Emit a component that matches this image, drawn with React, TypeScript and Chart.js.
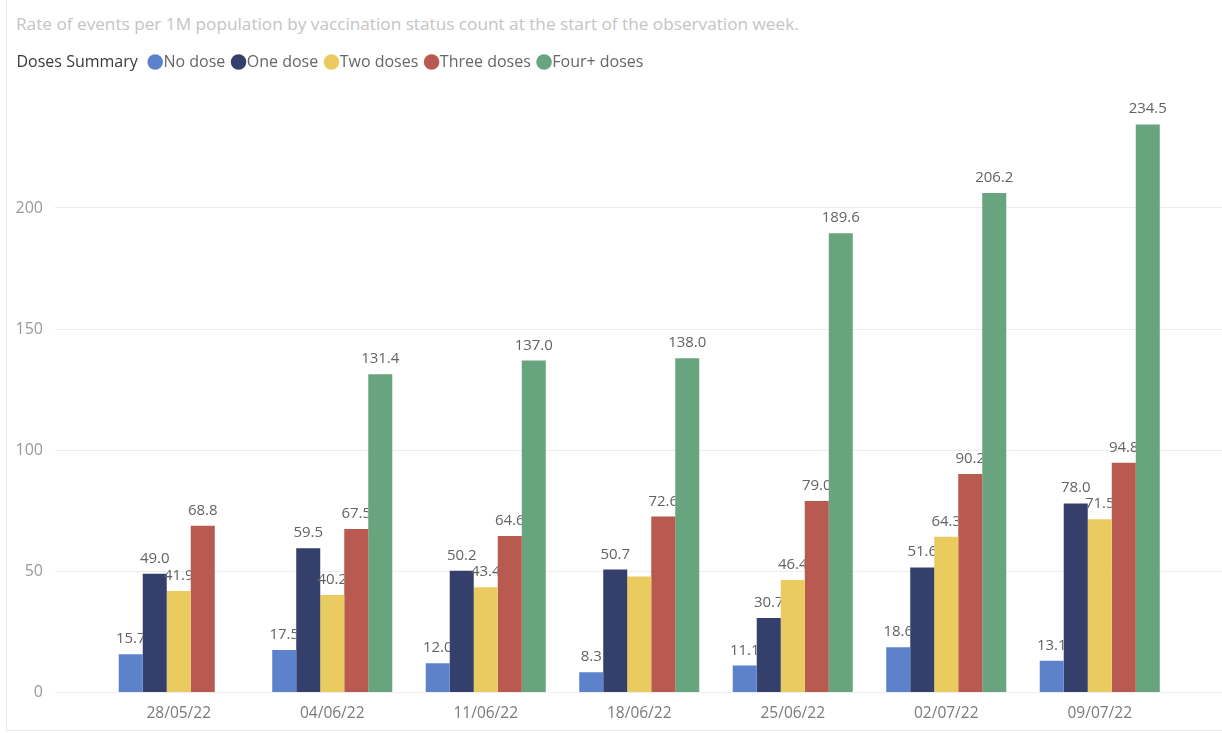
import React, { useEffect, useRef } from "react";
import { Chart, registerables } from "chart.js";

Chart.register(...registerables);

const chartTitle =
  "Rate of events per 1M population by vaccination status count at the start of the observation week.";
const legendCaption = "Doses Summary";

const categories = ["28/05/22", "04/06/22", "11/06/22", "18/06/22", "25/06/22", "02/07/22", "09/07/22"];
const seriesNames = ["No dose", "One dose", "Two doses", "Three doses", "Four+ doses"];
const noDose = [15.7, 17.5, 12.0, 8.3, 11.1, 18.6, 13.1];
const oneDose = [49.0, 59.5, 50.2, 50.7, 30.7, 51.6, 78.0];
const twoDoses = [41.9, 40.2, 43.4, 47.9, 46.4, 64.3, 71.5];
const threeDoses = [68.8, 67.5, 64.6, 72.6, 79.0, 90.2, 94.8];
const fourPlusDoses = [null, 131.4, 137.0, 138.0, 189.6, 206.2, 234.5];
const seriesColors = ["#5C82CC", "#343F6B", "#EACB60", "#B85A50", "#68A47D"];
const yTickValues = [0, 50, 100, 150, 200];
const yMax = 245;

const FONT = '"Open Sans", "Noto Sans", sans-serif';
const GRID = "#ececec";

const rectOf = (el: any) => {
  const p = el.getProps(["x", "y", "base", "width"], true);
  return {
    l: p.x - p.width / 2,
    r: p.x + p.width / 2,
    t: Math.min(p.y, p.base),
    b: Math.max(p.y, p.base),
  };
};

const barLabels = {
  id: "barLabels",
  afterDatasetsDraw(chart: any) {
    const ctx = chart.ctx;
    const n = chart.data.datasets.length;
    const placed: { l: number; r: number; t: number; b: number }[] = [];
    ctx.save();
    ctx.font = `15px ${FONT}`;
    ctx.fillStyle = "#636363";
    ctx.textAlign = "center";
    ctx.textBaseline = "alphabetic";
    for (let i = 0; i < n; i++) {
      const meta = chart.getDatasetMeta(i);
      const data = chart.data.datasets[i].data;
      meta.data.forEach((el: any, j: number) => {
        const v = data[j];
        if (v == null) return;
        const r = rectOf(el);
        const text = Number(v).toFixed(1);
        const w = ctx.measureText(text).width;
        const x = (r.l + r.r) / 2;
        const yb = r.t - 11;
        const box = { l: x - w / 2, r: x + w / 2, t: yb - 11, b: yb };
        if (placed.some((p) => p.l < box.r && box.l < p.r && p.t < box.b && box.t < p.b)) return;
        placed.push(box);
        ctx.save();
        ctx.beginPath();
        ctx.rect(0, 0, chart.width, chart.height);
        for (let k = i + 1; k < n; k++) {
          if (chart.data.datasets[k].data[j] == null) continue;
          const r2 = rectOf(chart.getDatasetMeta(k).data[j]);
          ctx.rect(r2.l, r2.t, r2.r - r2.l, r2.b - r2.t);
        }
        ctx.clip("evenodd");
        ctx.fillText(text, x, yb);
        ctx.restore();
      });
    }
    ctx.restore();
  },
};

const setTicks = (scale: any) => {
  scale.ticks = yTickValues.map((v) => ({ value: v }));
};

export default function App() {
  const ref = useRef<HTMLCanvasElement>(null);

  useEffect(() => {
    if (!ref.current) return;
    const seriesValues = [noDose, oneDose, twoDoses, threeDoses, fourPlusDoses];
    const chart = new Chart(ref.current, {
      type: "bar",
      data: {
        labels: categories,
        datasets: seriesNames.map((name, i) => ({
          label: name,
          data: seriesValues[i] as any,
          backgroundColor: seriesColors[i],
          borderWidth: 0,
          xAxisID: "x",
          yAxisID: "y",
          categoryPercentage: 0.782,
          barPercentage: 1.0,
        })),
      },
      options: {
        animation: false,
        responsive: true,
        maintainAspectRatio: false,
        layout: { padding: { left: -5, top: 41, right: 0, bottom: -2 } },
        plugins: {
          title: { display: false },
          tooltip: { enabled: false },
          legend: {
            display: true,
            position: "top",
            align: "start",
            labels: {
              usePointStyle: true,
              boxWidth: 0.5,
              boxHeight: 11,
              padding: 13,
              font: { family: FONT, size: 16 },
              generateLabels: (chart: any) => [
                {
                  text: legendCaption + " ",
                  fillStyle: "rgba(0,0,0,0)",
                  strokeStyle: "rgba(0,0,0,0)",
                  lineWidth: 0,
                  pointStyle: "circle",
                  fontColor: "#3a3a3a",
                  hidden: false,
                  datasetIndex: -1,
                },
                ...chart.data.datasets.map((d: any, i: number) => ({
                  text: d.label,
                  fillStyle: d.backgroundColor,
                  strokeStyle: d.backgroundColor,
                  lineWidth: 0,
                  pointStyle: "circle",
                  fontColor: "#666666",
                  hidden: false,
                  datasetIndex: i,
                })),
              ],
            },
          },
        },
        scales: {
          x: {
            type: "category",
            position: "bottom",
            offset: true,
            grid: { display: false, drawTicks: false },
            border: { display: false },
            ticks: {
              color: "#7a7a7a",
              font: { family: FONT, size: 15.5 },
              padding: 12,
              maxRotation: 0,
            },
          },
          xTop: {
            type: "category",
            axis: "x",
            position: "top",
            grid: { display: false, drawTicks: false },
            border: { display: false },
            ticks: { display: false },
            afterFit: (s: any) => {
              s.height = 19;
            },
          },
          y: {
            type: "linear",
            position: "left",
            min: 0,
            max: yMax,
            afterBuildTicks: setTicks,
            grid: { color: GRID, tickColor: GRID, lineWidth: 1, tickLength: 47, drawTicks: true },
            border: { display: false },
            ticks: { color: "#999999", font: { family: FONT, size: 16 }, padding: 12 },
            afterFit: (s: any) => {
              s.width = 107;
            },
          },
          y2: {
            type: "linear",
            position: "right",
            min: 0,
            max: yMax,
            afterBuildTicks: setTicks,
            grid: { drawOnChartArea: false, color: GRID, tickColor: GRID, tickLength: 46, drawTicks: true },
            border: { display: false },
            ticks: { display: false },
            afterFit: (s: any) => {
              s.width = 45.5;
            },
          },
        },
      },
      plugins: [barLabels],
    });
    return () => chart.destroy();
  }, []);

  return (
    <div style={{ position: "absolute", left: 0, top: 0, width: 1222, height: 733, background: "#ffffff", overflow: "hidden" }}>
      <div
        style={{
          position: "absolute",
          left: 6,
          top: 0,
          width: 1216,
          height: 730,
          borderLeft: "1px solid #e8e8e8",
          borderBottom: "1px solid #e8e8e8",
        }}
      />
      <div
        style={{
          position: "absolute",
          left: 16,
          top: 13,
          font: `17.2px ${FONT}`,
          lineHeight: "22px",
          color: "#c4c4c4",
          whiteSpace: "nowrap",
        }}
      >
        {chartTitle}
      </div>
      <div style={{ position: "absolute", left: 0, top: 0, width: 1222, height: 733 }}>
        <canvas ref={ref} />
      </div>
    </div>
  );
}
